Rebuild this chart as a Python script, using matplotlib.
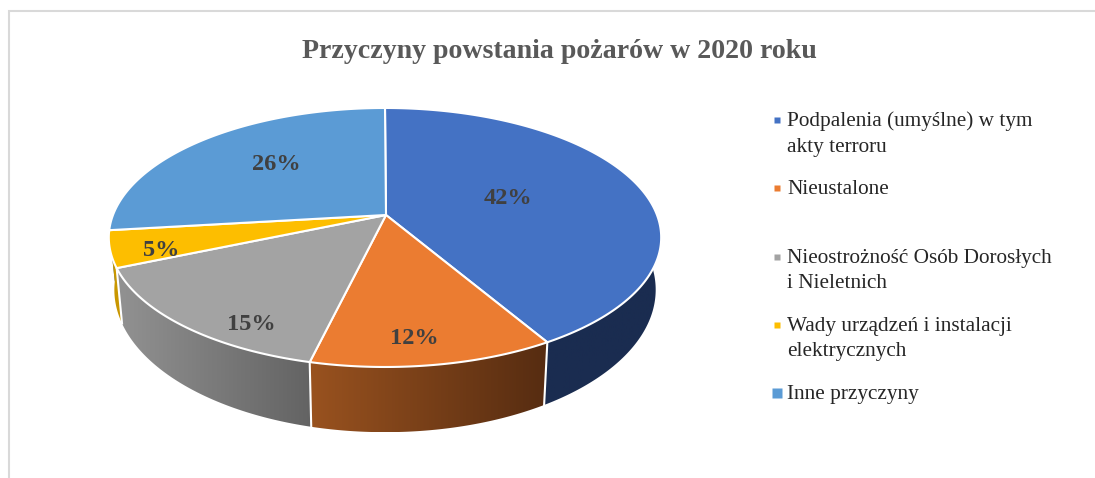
import numpy as np
import matplotlib
matplotlib.use("Agg")
import matplotlib.pyplot as plt
from matplotlib.colors import LinearSegmentedColormap
from matplotlib.patches import Polygon

title = "Przyczyny powstania pożarów w 2020 roku"
shares = [42, 12, 15, 5, 26]
legend_labels = ["Podpalenia (umyślne) w tym\nakty terroru",
                 "Nieustalone",
                 "Nieostrożność Osób Dorosłych\ni Nieletnich",
                 "Wady urządzeń i instalacji\nelektrycznych",
                 "Inne przyczyny"]
top_colors = ["#4472C4", "#EB7C31", "#A3A3A3", "#FDBE00", "#5B9BD5"]
wall_left = ["#1A2C50", "#99521F", "#929292", "#C99700", "#3E76AE"]
wall_right = ["#1A2C50", "#562C11", "#636363", "#C99700", "#3E76AE"]

label_pos = [(508, 199), (414, 339), (251, 325), (161, 251), (276, 165)]
legend_y = [120.5, 188.5, 257.5, 325.5, 393.5]
marker_size = [6, 6, 6, 6, 10]

# small angle corrections (degrees) seen on the slice borders of the picture
warp_at = [0, 151.2, 194.4, 248.4, 266.4, 360]
warp_by = [0, 1.7, 1.1, 1.6, 3.2, 0]

plt.rcParams["font.family"] = ["Liberation Serif", "DejaVu Serif"]


# perspective projection of the disc, t is clockwise from 12 o'clock
def top_point(t):
    t = t - np.radians(np.interp(np.degrees(t), warp_at, warp_by))
    u, v = np.sin(t), np.cos(t)
    w = 1 + 0.1736 * v
    return 385 + 272 * u / w, 215 - 125.6 * v / w


def bottom_point(t):
    x, y = top_point(t)
    return 386 + 0.98 * (x - 386), 265 + 1.1 * (y - 215)


fig = plt.figure(figsize=(10.95, 4.78), dpi=100)
ax = fig.add_axes([0, 0, 1, 1])

edges = np.cumsum([0] + shares) / sum(shares) * 2 * np.pi

# side walls first, the top faces cover the hidden part
# last slice goes first so its wall stays behind the yellow one
for i in reversed(range(len(shares))):
    t = np.linspace(edges[i], edges[i + 1], 200)
    tx, ty = top_point(t)
    bx, by = bottom_point(t)
    pts = np.column_stack([np.r_[tx, bx[::-1]], np.r_[ty, by[::-1]]])
    cmap = LinearSegmentedColormap.from_list("wall", [wall_left[i], wall_right[i]])
    x0, x1 = pts[:, 0].min(), pts[:, 0].max()
    y0, y1 = pts[:, 1].min(), pts[:, 1].max()
    grad = np.linspace(0, 1, 256).reshape(1, -1)
    im = ax.imshow(grad, cmap=cmap, extent=[x0, x1, y1, y0], aspect="auto", zorder=1)
    clip = Polygon(pts, closed=True, facecolor="none", edgecolor="none", transform=ax.transData)
    ax.add_patch(clip)
    im.set_clip_path(clip)

# white seams between the visible walls
for e in edges:
    if np.pi / 2 < e < 1.4 * np.pi:
        tx, ty = top_point(e)
        bx, by = bottom_point(e)
        ax.plot([tx, bx], [ty, by], color="white", lw=1.5, zorder=2)

for i in range(len(shares)):
    t = np.linspace(edges[i], edges[i + 1], 200)
    tx, ty = top_point(t)
    ax.fill(np.r_[386, tx], np.r_[215, ty], facecolor=top_colors[i],
            edgecolor="white", lw=1.5, joinstyle="round", zorder=3)

for val, (x, y) in zip(shares, label_pos):
    ax.text(x, y, f"{val}%", ha="center", va="center", fontsize=17.6,
            fontweight="bold", color="#404040", zorder=4)

ax.text(559, 51, title, ha="center", va="center", fontsize=20.1,
        fontweight="bold", color="#595959")

for i, lab in enumerate(legend_labels):
    ax.plot(777, legend_y[i] - 0.5, marker="s", ms=marker_size[i] * 0.72, color=top_colors[i],
            mec="none", ls="none")
    ax.text(787, legend_y[i] - 9, lab, ha="left", va="top", fontsize=15.3,
            color="#262626", linespacing=1.45)

# chart frame, cut by the picture on the right and bottom
ax.plot([9, 9, 1095], [478, 11, 11], color="#D9D9D9", lw=1.5, solid_joinstyle="miter")

ax.set_xlim(0, 1095)
ax.set_ylim(478, 0)
ax.axis("off")

plt.savefig("out.png", dpi=100)
